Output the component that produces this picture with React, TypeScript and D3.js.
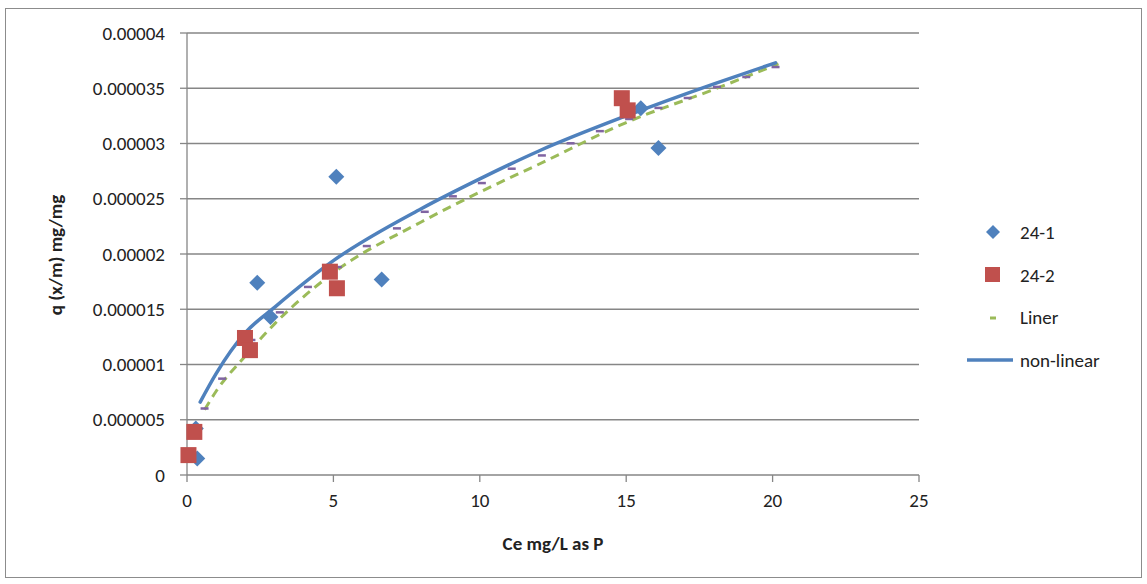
import React from "react";
import * as d3 from "d3";

// ---- data ----
const s1X = [0.35, 0.3, 2.4, 2.85, 5.1, 6.65, 15.5, 16.1];
const s1Y = [0.0000015, 0.0000042, 0.0000174, 0.0000143, 0.000027, 0.0000177, 0.0000332, 0.0000296];

const s2X = [0.05, 0.25, 1.98, 2.15, 4.88, 5.12, 14.85, 15.05];
const s2Y = [0.0000018, 0.0000039, 0.0000124, 0.0000113, 0.0000184, 0.0000169, 0.0000341, 0.000033];

const linerX = [0.6, 1, 2, 3, 5, 8, 10, 12, 15, 18, 20.2];
const linerY = [0.0000059, 0.0000076, 0.0000108, 0.0000137, 0.0000183, 0.0000229, 0.0000256, 0.0000281, 0.0000319, 0.0000349, 0.0000372];

const nlX = [0.45, 1, 2, 3, 5, 8, 10, 12, 15, 18, 20.1];
const nlY = [0.0000066, 0.0000092, 0.0000129, 0.0000152, 0.0000194, 0.0000241, 0.0000268, 0.0000293, 0.0000325, 0.0000354, 0.0000373];

const mkX = [0.6, 1.2, 2.2, 3.17, 4.13, 5.15, 6.14, 7.17, 8.12, 9.08, 10.07, 11.09, 12.12, 13.1, 14.1, 15.1, 16.1, 17.1, 18.1, 19.1, 20.1];
const mkY = [0.0000062, 0.0000089, 0.0000124, 0.0000149, 0.0000172, 0.000019, 0.0000209, 0.0000225, 0.000024, 0.0000254, 0.0000266, 0.0000279, 0.0000291, 0.0000302, 0.0000313, 0.0000324, 0.0000334, 0.0000343, 0.0000353, 0.0000362, 0.0000371];

const xTicks = [0, 5, 10, 15, 20, 25];
const yTicks = [0, 0.000005, 0.00001, 0.000015, 0.00002, 0.000025, 0.00003, 0.000035, 0.00004];
const yTickLabels = ["0", "0.000005", "0.00001", "0.000015", "0.00002", "0.000025", "0.00003", "0.000035", "0.00004"];

const legendNames = ["24-1", "24-2", "Liner", "non-linear"];

const BLUE = "#4F81BD";
const RED = "#C0504D";
const GREEN = "#9BBB59";
const PURPLE = "#8064A2";
const FONT = "Carlito, 'Liberation Sans Narrow', 'Open Sans', sans-serif";

export default function App() {
  const W = 1147, H = 584;
  const left = 187, right = 919, top = 33, bottom = 475;
  const x = d3.scaleLinear().domain([0, 25]).range([left, right]);
  const y = d3.scaleLinear().domain([0, 0.00004]).range([bottom, top]);

  const line = d3.line<[number, number]>().x(d => x(d[0])).y(d => y(d[1])).curve(d3.curveMonotoneX);
  const linerPts = linerX.map((v, i) => [v, linerY[i]] as [number, number]);
  const nlPts = nlX.map((v, i) => [v, nlY[i]] as [number, number]);

  const diamond = (cx: number, cy: number, r: number) =>
    `M${cx},${cy - r}L${cx + r},${cy}L${cx},${cy + r}L${cx - r},${cy}Z`;

  return (
    <svg width={W} height={H} style={{ position: "absolute", left: 0, top: 0, background: "#fff" }}>
      <rect x={5.5} y={8.5} width={1136} height={569} fill="#fff" stroke="#8c8c8c" />
      {yTicks.map((t, i) => (
        <g key={"y" + i}>
          <line x1={left} x2={right} y1={y(t)} y2={y(t)} stroke="#868686" strokeWidth={1.3} />
          <line x1={left - 7} x2={left} y1={y(t)} y2={y(t)} stroke="#868686" strokeWidth={1.3} />
          <text x={left - 22} y={y(t)} dy="0.35em" textAnchor="end" fontFamily={FONT} fontSize={19} fill="#222">
            {yTickLabels[i]}
          </text>
        </g>
      ))}
      <line x1={left} x2={left} y1={top} y2={bottom} stroke="#868686" strokeWidth={1.3} />
      {xTicks.map((t, i) => (
        <g key={"x" + i}>
          <line x1={x(t)} x2={x(t)} y1={bottom} y2={bottom + 7} stroke="#868686" strokeWidth={1.3} />
          <text x={x(t)} y={bottom + 32} textAnchor="middle" fontFamily={FONT} fontSize={19} fill="#222">
            {t}
          </text>
        </g>
      ))}
      <text x={553} y={550} textAnchor="middle" fontFamily={FONT} fontSize={19} fontWeight="bold" fill="#222">
        Ce mg/L as P
      </text>
      <text transform={`translate(62,${(top + bottom) / 2 + 1}) rotate(-90)`} textAnchor="middle" fontFamily={FONT} fontSize={19} fontWeight="bold" fill="#222">
        q (x/m) mg/mg
      </text>

      {/* curves */}
      <path d={line(linerPts) || ""} fill="none" stroke={GREEN} strokeWidth={3} strokeDasharray="9,6" />
      {mkX.map((v, i) => (
        <line key={"m" + i} x1={x(v) - 4} x2={x(v) + 4} y1={y(mkY[i]) + 2} y2={y(mkY[i]) + 2} stroke={PURPLE} strokeWidth={2.5} />
      ))}
      <path d={line(nlPts) || ""} fill="none" stroke={BLUE} strokeWidth={3.5} strokeLinecap="round" />

      {/* points */}
      {s1X.map((v, i) => (
        <path key={"d" + i} d={diamond(x(v), y(s1Y[i]), 8)} fill={BLUE} />
      ))}
      {s2X.map((v, i) => (
        <rect key={"s" + i} x={x(v) - 8} y={y(s2Y[i]) - 8} width={16} height={16} fill={RED} />
      ))}

      {/* legend */}
      <g fontFamily={FONT} fontSize={19} fill="#222">
        <path d={diamond(993, 232, 7)} fill={BLUE} />
        <text x={1020} y={232} dy="0.35em">{legendNames[0]}</text>
        <rect x={985} y={267} width={15} height={15} fill={RED} />
        <text x={1020} y={275} dy="0.35em">{legendNames[1]}</text>
        <line x1={990} x2={996} y1={318} y2={318} stroke={GREEN} strokeWidth={3} />
        <text x={1020} y={317} dy="0.35em">{legendNames[2]}</text>
        <line x1={967} x2={1013} y1={360} y2={360} stroke={BLUE} strokeWidth={3.5} />
        <text x={1020} y={360} dy="0.35em">{legendNames[3]}</text>
      </g>
    </svg>
  );
}
